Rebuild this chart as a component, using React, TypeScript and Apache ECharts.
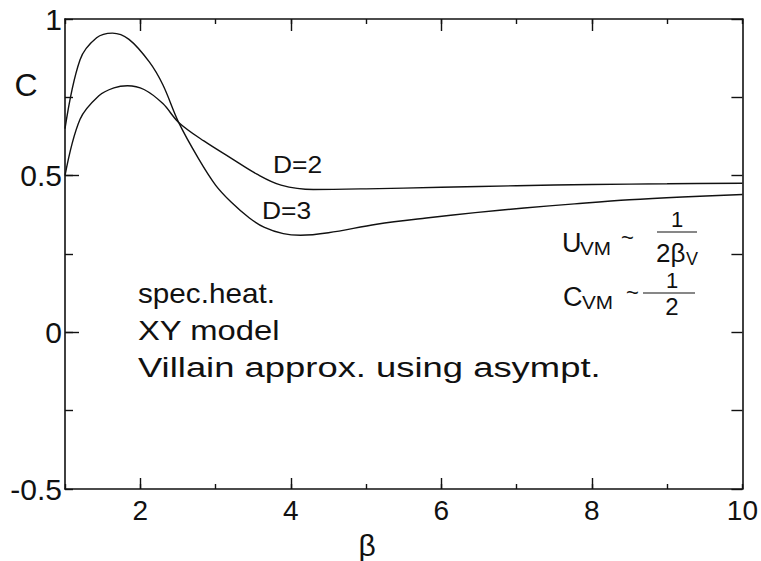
import React, { useEffect, useRef } from "react";
import * as echarts from "echarts";

// Specific heat C(β) of the XY model, Villain approximation
const betaD2 = [1, 1.2, 1.45, 1.65, 1.83, 2.05, 2.3, 2.51, 2.85, 3.2, 3.55, 3.87, 4.3, 5, 6, 7, 8, 9, 10];
const heatD2 = [0.5, 0.68, 0.755, 0.78, 0.787, 0.775, 0.73, 0.67, 0.61, 0.557, 0.505, 0.47, 0.456, 0.458, 0.463, 0.468, 0.472, 0.474, 0.476];

const betaD3 = [1, 1.2, 1.42, 1.63, 1.85, 2.12, 2.3, 2.51, 2.77, 3.0, 3.21, 3.45, 3.65, 3.9, 4.13, 4.5, 5.14, 5.8, 6.45, 7.1, 7.77, 8.5, 9.2, 10];
const heatD3 = [0.65, 0.87, 0.94, 0.955, 0.935, 0.863, 0.79, 0.67, 0.556, 0.47, 0.415, 0.365, 0.335, 0.315, 0.31, 0.318, 0.345, 0.365, 0.382, 0.397, 0.41, 0.423, 0.432, 0.44];

const xLabelValues = [2, 4, 6, 8, 10];
const xMajorTicks = [2, 4, 6, 8];
const yLabelValues = [-0.5, 0, 0.5, 1];
const yMajorTicks = [0, 0.5];

const FONT = "Liberation Sans";
const INK = "#111";

function pairs(xs: number[], ys: number[]) {
  return xs.map((x, i) => [x, ys[i]]);
}

function near(list: number[], v: number) {
  return list.some((t) => Math.abs(t - v) < 1e-6);
}

function txt(text: string, x: number, y: number, size: number, opts: any = {}) {
  return {
    type: "text",
    x,
    y,
    scaleX: opts.scaleX ?? 1,
    style: {
      text,
      font: `${size}px ${FONT}`,
      fill: INK,
      textAlign: opts.align ?? "left",
      textVerticalAlign: "middle",
    },
  };
}

function hline(x1: number, x2: number, y: number) {
  return {
    type: "line",
    shape: { x1, y1: y, x2, y2: y },
    style: { stroke: INK, lineWidth: 1.2 },
  };
}

export default function App() {
  const ref = useRef<HTMLDivElement>(null);

  useEffect(() => {
    document.body.style.margin = "0";
    const chart = echarts.init(ref.current!, null, { renderer: "svg" });

    const axisLine = { show: true, onZero: false, lineStyle: { color: INK, width: 1.6 } };
    const noLine = { show: false, onZero: false };
    const tickStyle = { color: INK, width: 1.4 };
    const baseX = { type: "value", min: 1, max: 10, interval: 1, splitLine: { show: false } };
    const baseY = { type: "value", min: -0.5, max: 1, interval: 0.25, splitLine: { show: false } };

    chart.setOption({
      animation: false,
      backgroundColor: "#fff",
      textStyle: { fontFamily: FONT, fontSize: 24, color: INK },
      grid: { left: 65, right: 11, top: 19, bottom: 72 },
      xAxis: [
        {
          ...baseX,
          position: "bottom",
          axisLine,
          axisTick: { inside: true, length: 5, lineStyle: tickStyle },
          axisLabel: {
            show: true,
            fontSize: 28,
            fontFamily: FONT,
            color: INK,
            margin: 7,
            showMinLabel: true,
            showMaxLabel: true,
            formatter: (v: number) => (near(xLabelValues, v) ? String(v) : ""),
          },
        },
        {
          ...baseX,
          position: "bottom",
          axisLine: noLine,
          axisTick: { inside: true, length: 11, customValues: xMajorTicks, lineStyle: tickStyle },
          axisLabel: { show: false },
        },
        {
          ...baseX,
          position: "top",
          axisLine,
          axisTick: { inside: true, length: 5, lineStyle: tickStyle },
          axisLabel: { show: false },
        },
        {
          ...baseX,
          position: "top",
          axisLine: noLine,
          axisTick: { inside: true, length: 12, customValues: xMajorTicks, lineStyle: tickStyle },
          axisLabel: { show: false },
        },
      ],
      yAxis: [
        {
          ...baseY,
          position: "left",
          axisLine,
          axisTick: { inside: true, length: 8, lineStyle: tickStyle },
          axisLabel: {
            show: true,
            fontSize: 30,
            fontFamily: FONT,
            color: INK,
            margin: 3,
            showMinLabel: true,
            showMaxLabel: true,
            formatter: (v: number) => (near(yLabelValues, v) ? String(v) : ""),
          },
        },
        {
          ...baseY,
          position: "left",
          axisLine: noLine,
          axisTick: { inside: true, length: 14, customValues: yMajorTicks, lineStyle: tickStyle },
          axisLabel: { show: false },
        },
        {
          ...baseY,
          position: "right",
          axisLine,
          axisTick: { inside: true, length: 11, lineStyle: tickStyle },
          axisLabel: { show: false },
        },
      ],
      series: [
        {
          name: "D=2",
          type: "line",
          data: pairs(betaD2, heatD2),
          showSymbol: false,
          smooth: 0.35,
          lineStyle: { color: INK, width: 1.4 },
        },
        {
          name: "D=3",
          type: "line",
          data: pairs(betaD3, heatD3),
          showSymbol: false,
          smooth: 0.35,
          lineStyle: { color: INK, width: 1.4 },
        },
      ],
      graphic: [
        txt("C", 26, 85, 32, { align: "center" }),
        txt("β", 367, 545, 30, { align: "center" }),
        txt("D=2", 273, 164, 24, { scaleX: 1.1 }),
        txt("D=3", 262, 210, 24, { scaleX: 1.1 }),
        txt("spec.heat.", 138, 293, 28, { scaleX: 1.06 }),
        txt("XY model", 138, 330, 28, { scaleX: 1.17 }),
        txt("Villain approx. using asympt.", 138, 368, 28, { scaleX: 1.3 }),
        // U_VM ~ 1 / (2 β_V)
        txt("U", 562, 243, 27),
        txt("VM", 580, 249, 18, { scaleX: 1.15 }),
        txt("~", 621, 237, 22),
        txt("1", 677, 219, 22, { align: "center" }),
        hline(657, 697, 232),
        txt("2β", 656, 253, 26),
        txt("V", 686, 259, 18),
        // C_VM ~ 1 / 2
        txt("C", 563, 297, 27),
        txt("VM", 582, 303, 18, { scaleX: 1.15 }),
        txt("~", 626, 292, 22),
        txt("1", 672, 280, 22, { align: "center" }),
        hline(643, 695, 293),
        txt("2", 672, 306, 24, { align: "center" }),
      ],
    });

    return () => chart.dispose();
  }, []);

  return <div ref={ref} style={{ width: 761, height: 561 }} />;
}
